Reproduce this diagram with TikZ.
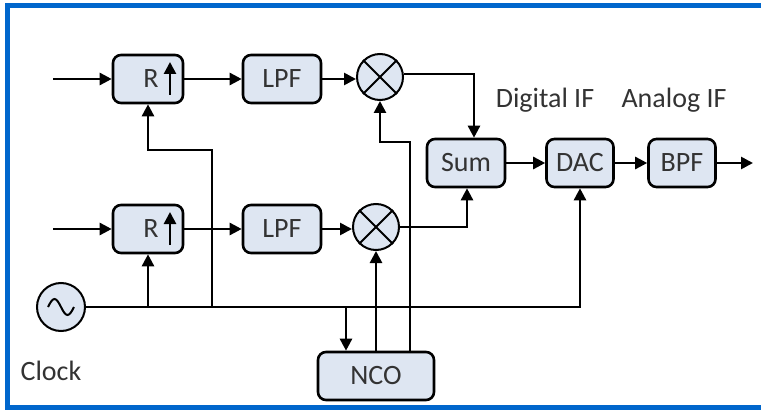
\documentclass[tikz,border=0pt]{standalone}
\usepackage{fontspec}
\setmainfont{Carlito}
\usetikzlibrary{arrows.meta, calc}
\definecolor{frameblue}{RGB}{0,102,204}
\definecolor{boxfill}{RGB}{222,230,242}
\tikzset{
    blk/.style={draw, line width=2.6pt, rounded corners=8pt, fill=boxfill,
        minimum height=48pt, inner sep=0pt, text=black!80},
    mixer/.style={draw, line width=2pt, circle, fill=boxfill, minimum size=46pt, inner sep=0pt},
    sig/.style={line width=2.6pt, -{Triangle[length=12pt,width=12pt]}},
    lbl/.style={text=black!80}
}
\begin{document}
\begin{tikzpicture}[x=1pt, y=-1pt, font=\fontsize{28}{32}\selectfont]
        \useasboundingbox (0,0) rectangle (761,412);
        \begin{scope}
        \clip (0,0) rectangle (761,412);
        % Draw blue frame
        \draw[frameblue, line width=5pt] (7,6) rectangle (790,407);
        \end{scope}

        % Define blocks of the upper branch
        \node[blk, minimum width=70pt] (rup) at (148, 79) {\hspace{6pt}R\hspace{18pt}};
        \node[blk, minimum width=78pt] (lpfup) at (282, 79) {LPF};
        \node[mixer] (mixup) at (380, 77) {};

        % Define blocks of the lower branch
        \node[blk, minimum width=70pt] (rdn) at (148, 229) {\hspace{6pt}R\hspace{18pt}};
        \node[blk, minimum width=78pt] (lpfdn) at (282, 229) {LPF};
        \node[mixer] (mixdn) at (376, 227) {};

        % Define output chain
        \node[blk, minimum width=78pt] (sum) at (466, 163) {Sum};
        \node[blk, minimum width=67pt] (dac) at (580, 163) {DAC};
        \node[blk, minimum width=67pt] (bpf) at (682, 163) {BPF};
        \node[blk, minimum width=116pt] (nco) at (376, 376) {NCO};
        \node[mixer, minimum size=48pt] (osc) at (61, 307) {};

        % Labels
        \node[lbl] (clock) at (51, 371) {Clock};
        \node[lbl] (digif) at (545, 100) {Digital IF};
        \node[lbl] (anaif) at (674, 100) {Analog IF};

        % Free ends and corners
        \coordinate (inup) at (53, 79);
        \coordinate (indn) at (53, 229);
        \coordinate (out) at (753, 163);
        \coordinate (tap) at (212, 307);
        \coordinate (rupk) at (148, 150);
        \coordinate (tapn) at (346, 307);
        \coordinate (ncor) at (410, 352);
        \coordinate (mk) at (380, 142);

        % Up arrows inside the R blocks
        \draw[sig] ($(rup.center)+(22,16)$) -- ($(rup.center)+(22,-17)$);
        \draw[sig] ($(rdn.center)+(22,16)$) -- ($(rdn.center)+(22,-17)$);

        % Cross in the mixers, wave in the clock
        \draw[line width=2pt] (mixup.north east) -- (mixup.south west);
        \draw[line width=2pt] (mixup.north west) -- (mixup.south east);
        \draw[line width=2pt] (mixdn.north east) -- (mixdn.south west);
        \draw[line width=2pt] (mixdn.north west) -- (mixdn.south east);
        \draw[line width=2pt] ($(osc.center)+(-13,0)$) sin ++(6.5,-8) cos ++(6.5,8) sin ++(6.5,8) cos ++(6.5,-8);

        % Signal paths
        \draw[sig] (inup) -- (rup);
        \draw[sig] (rup) -- (lpfup);
        \draw[sig] (lpfup.east) -- (lpfup.east -| mixup.west);
        \draw[sig] (indn) -- (rdn);
        \draw[sig] (rdn) -- (lpfdn);
        \draw[sig] (lpfdn.east) -- (lpfdn.east -| mixdn.west);
        \draw[sig] ([yshift=3pt]mixup.east) -| ([xshift=8pt]sum.north);
        \draw[sig] (mixdn.east) -| ([xshift=1pt]sum.south);
        \draw[sig] (sum) -- (dac);
        \draw[sig] (dac) -- (bpf);
        \draw[sig] (bpf) -- (out);

        % Clock distribution
        \draw[sig] (osc.east) -| (dac.south);
        \draw[sig] (rdn.south |- osc) -- (rdn.south);
        \draw[sig] (tap) |- (rupk) -- (rup.south);
        \draw[sig] (tapn) -- (tapn |- nco.north);

        % NCO outputs
        \draw[sig] (nco.north) -- (mixdn.south);
        \draw[sig] (ncor) |- (mk) -- (mixup.south);

    \end{tikzpicture}
\end{document}
